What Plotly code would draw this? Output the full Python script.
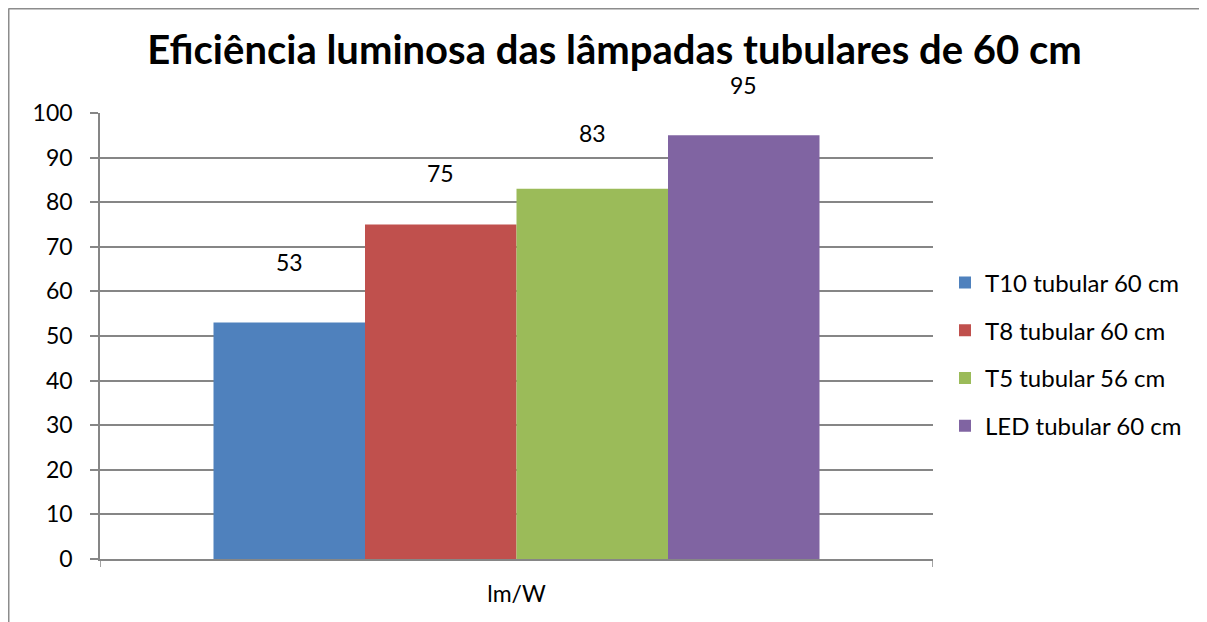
import plotly.graph_objects as go

categories = ["lm/W"]
series_names = ["T10 tubular 60 cm", "T8 tubular 60 cm", "T5 tubular 56 cm", "LED tubular 60 cm"]
series_values = [53, 75, 83, 95]
colors = ["#4F81BD", "#C0504D", "#9BBB59", "#8064A2"]
label_shift = [61, 52, 56, 50]  # pixel offsets of data labels above bar tops

FONT = "Lato"
W, H = 1207, 622
OFF = 8  # page body margin
L, T = 100 - OFF, 113 - OFF
R = W - (933 - OFF)
B = H - (559 - OFF)

fig = go.Figure()
n = len(series_names)
GW = 0.7275
for i, (name, val, col) in enumerate(zip(series_names, series_values, colors)):
    fig.add_trace(go.Bar(
        x=[0], y=[val], name=name, marker=dict(color=col, line=dict(width=0)),
        width=GW / n, offset=-GW / 2 + i * GW / n,
        legendgroup=name,
    ))
    fig.add_annotation(
        x=-GW / 2 + (i + 0.5) * GW / n, y=val, xref="x", yref="y",
        text=str(val), showarrow=False, yshift=label_shift[i], yanchor="middle",
        font=dict(family=FONT, size=23, color="#000000"),
    )

pw = W - L - R
ph = H - T - B
# chart border: top and left edges (others lie outside the view)
fig.add_shape(type="line", xref="paper", yref="paper",
              x0=(0.5 - L) / pw, x1=(W - L) / pw,
              y0=(H - 0.5 - B) / ph, y1=(H - 0.5 - B) / ph,
              line=dict(color="#8C8C8C", width=2), layer="below")
fig.add_shape(type="line", xref="paper", yref="paper",
              x0=(0.5 - L) / pw, x1=(0.5 - L) / pw,
              y0=-(B + 10) / ph, y1=(H - 0.5 - B) / ph,
              line=dict(color="#8C8C8C", width=2), layer="below")

fig.update_layout(
    width=W, height=H,
    margin=dict(l=L, r=R, t=T, b=B, autoexpand=False),
    paper_bgcolor="white", plot_bgcolor="white",
    title=dict(text="<b>Eficiência luminosa das lâmpadas tubulares de 60 cm</b>",
               x=(614.5 - OFF) / W, xref="container", xanchor="center",
               y=1 - (50 - OFF) / H, yref="container", yanchor="middle",
               font=dict(family=FONT, size=40, color="#000000")),
    barmode="group",
    showlegend=True,
    legend=dict(x=(945 - OFF - L) / pw, xanchor="left", y=(H - B - (354.5 - OFF)) / ph, yanchor="middle",
                font=dict(family=FONT, size=24, color="#000000"),
                tracegroupgap=13.5, traceorder="grouped", itemwidth=30,
                bgcolor="rgba(0,0,0,0)"),
    font=dict(family=FONT, color="#000000"),
)
fig.update_xaxes(
    range=[-0.5, 0.5], tickvals=[0], ticktext=categories,
    showline=True, linecolor="#868686", linewidth=1.5,
    ticks="", showgrid=False, zeroline=False,
    tickfont=dict(family=FONT, size=23, color="#000000"),
    ticklabelstandoff=14,
)
for xv in [-0.5, 0.5]:
    fig.add_shape(type="line", xref="x", yref="paper", x0=xv, x1=xv,
                  y0=0, y1=-8 / ph, line=dict(color="#868686", width=1.5))
fig.update_yaxes(
    range=[0, 100], dtick=10, showline=True, linecolor="#868686", linewidth=1.5,
    ticks="outside", ticklen=8, tickcolor="#868686", tickwidth=1.5,
    showgrid=True, gridcolor="#868686", gridwidth=1.5, zeroline=False,
    tickfont=dict(family=FONT, size=23, color="#000000"),
    ticklabelstandoff=13,
)
fig.write_html("out.html")
